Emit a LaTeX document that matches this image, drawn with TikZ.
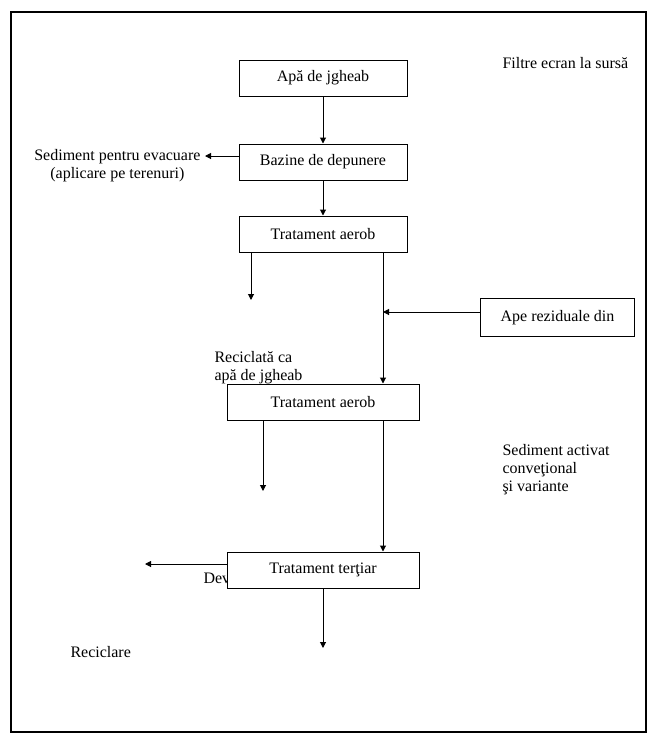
\documentclass[tikz,border=0pt]{standalone}
\usepackage{fontspec}
\setmainfont{Liberation Serif}
\usetikzlibrary{arrows.meta}

\begin{document}
\begin{tikzpicture}[x=0.75pt, y=-0.75pt, >={Triangle[length=4.5pt,width=4.5pt]}, line width=0.75pt,
    every node/.style={font=\fontsize{12}{13.5}\selectfont},
    box/.style={draw, fill=white, minimum width=126pt, minimum height=27pt, inner sep=0pt},
    lbl/.style={anchor=base west, inner sep=0pt, align=left}]
    \useasboundingbox (0,0) rectangle (660,744);
    \draw[line width=1.1pt] (11,12) rectangle (646,732);
    \node[box] (jgheab) at (323,78) {Apă de jgheab};
    \node[box] (baz) at (323,162) {Bazine de depunere};
    \node[box] (aer1) at (323,234) {Tratament aerob};
    \node[box, minimum width=116pt, minimum height=28pt] (ape) at (557.5,317.5) {Ape reziduale din};
    \node[box, minimum width=144pt] (aer2) at (323,402) {Tratament aerob};
    \node[lbl] (dev) at (203,583) {Dev};
    \node[box, minimum width=144pt] (ter) at (323,570) {Tratament terţiar};
    % free ends
    \coordinate (col) at (383,0);
    \coordinate (join) at (383,312);
    \coordinate (sedend) at (205,156);
    \coordinate (recic) at (251,300);
    \coordinate (sedact) at (263,491);
    \coordinate (devend) at (145,564);
    \coordinate (finend) at (323,648);
    \draw[->] (jgheab) -- (baz);
    \draw[->] (baz) -- (aer1);
    \draw[->] (baz.west |- sedend) -- (sedend);
    \draw[->] (aer1.south -| recic) -- (recic);
    \draw[->] (aer1.south -| col) -- (aer2.north -| col);
    \draw[->] (ape.west |- join) -- (join);
    \draw[->] (aer2.south -| sedact) -- (sedact);
    \draw[->] (aer2.south -| col) -- (ter.north -| col);
    \draw[->] (ter.west |- devend) -- (devend);
    \draw[->] (ter) -- (finend);
    % labels (base = last line)
    \node[lbl] (filtre) at (502,68) {Filtre ecran la sursă};
    \node[anchor=base east, inner sep=0pt, align=center] (sed) at (201,178) {Sediment pentru evacuare\\(aplicare pe terenuri)};
    \node[lbl] (recicl) at (214,380) {Reciclată ca\\apă de jgheab};
    \node[lbl] (activ) at (502,491) {Sediment activat\\conveţional\\şi variante};
    \node[lbl] (recl) at (70,657) {Reciclare};
\end{tikzpicture}
\end{document}
